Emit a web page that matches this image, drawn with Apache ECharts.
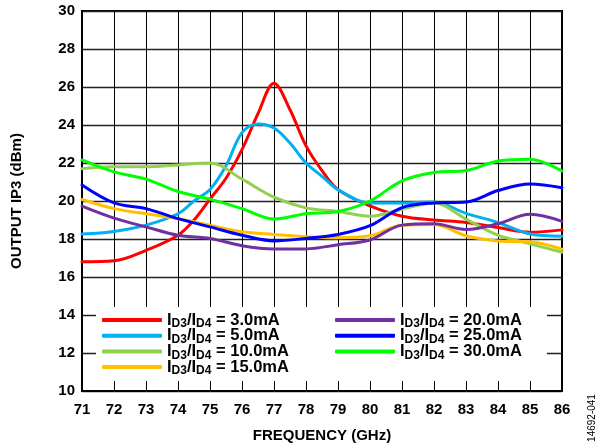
<!DOCTYPE html>
<html><head><meta charset="utf-8">
<script src="https://cdn.jsdelivr.net/npm/echarts@6/dist/echarts.min.js"></script>
<style>html,body{margin:0;padding:0;background:#fff}#c{width:611px;height:448px}</style>
</head><body><div id="c"></div>
<script>
const freq = [71,72,73,74,75,76,77,78,79,80,81,82,83,84,85,86];
const freqPeak = [74.5,75.5,76.5,77.5,78.5];
const names = ['3.0','5.0','10.0','15.0','20.0','25.0','30.0'];
const colors = ['#ff0000','#00b0f0','#92d050','#ffc000','#7030a0','#0000ff','#00ff00'];
const id3 = [16.8,16.85,17.4,18.2,20.1,22.7,26.2,22.9,20.6,19.74,19.2,19.0,18.87,18.6,18.35,18.48];
const id3Peak = [19.0,21.2,24.6,24.8,21.6];
const id5 = [18.26,18.4,18.73,19.33,20.6,23.6,23.84,22.0,20.6,19.9,19.9,19.95,19.35,18.87,18.26,18.15];
const id5Peak = [20.0,21.85,24.05,23.05,21.3];
const id10 = [21.7,21.8,21.8,21.9,22.0,21.15,20.2,19.64,19.45,19.2,19.57,19.9,19.05,18.2,17.75,17.3];
const id15 = [20.08,19.6,19.33,19.07,18.73,18.38,18.24,18.12,18.07,18.17,18.73,18.76,18.17,17.9,17.85,17.46];
const id20 = [19.73,19.1,18.64,18.2,18.03,17.65,17.48,17.48,17.7,17.95,18.73,18.8,18.5,18.8,19.3,18.93];
const id25 = [20.84,19.9,19.6,19.07,18.64,18.2,17.9,18.03,18.24,18.7,19.65,19.9,19.95,20.55,20.9,20.7];
const id30 = [22.16,21.53,21.15,20.5,20.1,19.6,19.05,19.33,19.45,20.0,21.06,21.5,21.6,22.1,22.2,21.58];
const yTicks = [10,12,14,16,18,20,22,24,26,28,30];

const FONT = '"Liberation Sans", Arial, sans-serif';
function pairs(vals, extraX, extraV) {
  let p = freq.map((f,i)=>[f, vals[i]]);
  if (extraX) p = p.concat(extraX.map((f,i)=>[f, extraV[i]]));
  return p.sort((a,b)=>a[0]-b[0]);
}
const seriesVals = [
  pairs(id3, freqPeak, id3Peak), pairs(id5, freqPeak, id5Peak), pairs(id10), pairs(id15),
  pairs(id20), pairs(id25), pairs(id30)
];
const chart = echarts.init(document.getElementById('c'));
const rich = {
  m: {fontSize: 16.5, fontWeight: 'bold', fontFamily: FONT, color: '#000', lineHeight: 16},
  s: {fontSize: 12, fontWeight: 'bold', fontFamily: FONT, color: '#000', padding: [8,0,0,0], lineHeight: 12}
};
const fmt = n => '{m|I}{s|D3}{m|/I}{s|D4}{m| = ' + n + 'mA}';
const legendBase = {
  orient: 'vertical', icon: 'roundRect', itemWidth: 60, itemHeight: 4, itemGap: -4.3,
  formatter: fmt, textStyle: {rich: rich}, selectedMode: false, padding: 0
};
chart.setOption({
  animation: false,
  color: colors,
  grid: {left: 82, right: 49, top: 11, bottom: 54, show: true, borderColor: '#000', borderWidth: 2, backgroundColor: 'transparent'},
  xAxis: {
    type: 'value', min: 71, max: 86, interval: 1,
    name: 'FREQUENCY (GHz)', nameLocation: 'middle', nameGap: 37,
    nameTextStyle: {fontSize: 15, fontWeight: 'bold', fontFamily: FONT, color: '#000'},
    axisLine: {show: true, lineStyle: {color: '#000', width: 2}},
    axisTick: {show: false},
    axisLabel: {fontSize: 15, fontWeight: 'bold', fontFamily: FONT, color: '#000', margin: 11},
    splitLine: {show: true, lineStyle: {color: '#000', width: 1}}
  },
  yAxis: {
    type: 'value', min: 10, max: 30, interval: 2,
    name: 'OUTPUT IP3 (dBm)', nameLocation: 'middle', nameGap: 58, nameRotate: 90,
    nameTextStyle: {fontSize: 15, fontWeight: 'bold', fontFamily: FONT, color: '#000'},
    axisLine: {show: true, lineStyle: {color: '#000', width: 2}},
    axisTick: {show: false},
    axisLabel: {fontSize: 15, fontWeight: 'bold', fontFamily: FONT, color: '#000', margin: 7,
      formatter: v => yTicks.includes(v) ? String(v) : ''},
    splitLine: {show: true, lineStyle: {color: '#222', width: 1.4}}
  },
  legend: [
    Object.assign({}, legendBase, {left: 102, top: 310, data: names.slice(0,4)}),
    Object.assign({}, legendBase, {left: 335, top: 310, data: names.slice(4)})
  ],
  graphic: [
    {type: 'rect', z: 3, shape: {x: 96, y: 307, width: 451, height: 74}, style: {fill: '#fff'}},
    {type: 'text', z: 5, x: 592, y: 418, rotation: Math.PI/2,
     style: {text: '14692-041', fontSize: 10, fontFamily: FONT, fill: '#000', align: 'center', verticalAlign: 'middle'}}
  ],
  series: names.map((n,i)=>({
    name: n, type: 'line', data: seriesVals[i], smooth: 0.35, symbol: 'none',
    lineStyle: {width: 3, color: colors[i], cap: 'round'}
  }))
});
</script></body></html>
